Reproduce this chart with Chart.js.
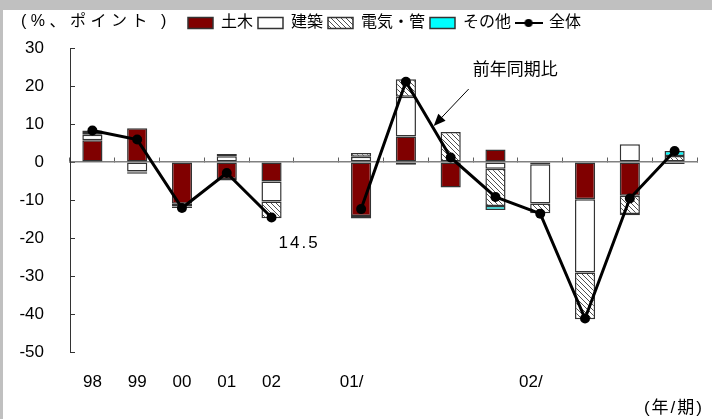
<!DOCTYPE html>
<html>
<head>
<meta charset="utf-8">
<script src="https://cdn.jsdelivr.net/npm/chart.js@4.4.1/dist/chart.umd.min.js"></script>
<style>
  html, body { margin: 0; padding: 0; background: #c0c0c0; }
  #wrap { position: absolute; left: 3px; top: 10px; width: 709px; height: 409px; background: #fff; }
</style>
</head>
<body>
<div id="wrap"><canvas id="chart" width="709" height="409"></canvas></div>
<script>
// year / quarter slots (index 5 is the empty gap)
const periods = ['98', '99', '00', '01', '02', '', '01/', '', '', '', '02/', '', '', ''];
const civil    = [5.7, 8.9, -11.0, -4.5, -5.1, null, -14.2, 6.7, -6.7, 3.3, -0.6, -9.8, -8.9, -0.5];
const building = [1.5, -2.5, -0.3, 1.5, -5.3, null, 1.4, 10.5, null, -1.8, -10.3, -19.3, 4.7, null];
const electric = [0.4, -0.2, -0.4, 0.6, -4.4, null, 1.0, 4.6, 7.9, -9.8, -2.6, -12.3, -4.8, 1.6];
const other    = [0.7, -0.4, -0.4, -0.4, null, null, -0.7, -0.7, null, -1.0, null, null, -0.3, 1.3];
const total    = [8.3, 5.9, -12.1, -2.9, -14.6, null, -12.4, 21.1, 1.2, -9.2, -13.6, -41.2, -9.6, 2.9];
const yTicks = [-50, -40, -30, -20, -10, 0, 10, 20, 30];

const FONT = '"Liberation Sans", "Noto Sans CJK JP", sans-serif';
const canvas = document.getElementById('chart');
const ctx = canvas.getContext('2d');

function makeHatch() {
  const c = document.createElement('canvas');
  c.width = 5; c.height = 5;
  const g = c.getContext('2d');
  g.fillStyle = '#fff';
  g.fillRect(0, 0, 5, 5);
  g.strokeStyle = '#505050';
  g.lineWidth = 1;
  g.beginPath();
  g.moveTo(-1, -1); g.lineTo(6, 6);
  g.moveTo(-1, 4); g.lineTo(1, 6);
  g.moveTo(4, -1); g.lineTo(6, 1);
  g.stroke();
  return ctx.createPattern(c, 'repeat');
}

function makeLineIcon() {
  const c = document.createElement('canvas');
  c.width = 28; c.height = 12;
  const g = c.getContext('2d');
  g.strokeStyle = '#000';
  g.lineWidth = 2;
  g.beginPath(); g.moveTo(0, 6); g.lineTo(28, 6); g.stroke();
  g.fillStyle = '#000';
  g.beginPath(); g.arc(14, 6, 4, 0, Math.PI * 2); g.fill();
  return c;
}

const hatch = makeHatch();
const lineIcon = makeLineIcon();

const barStyle = { borderColor: '#333', borderWidth: 1.5, borderSkipped: false, stack: 'parts', order: 1 };

// texts and arrow that are not part of the axes
const notes = {
  id: 'notes',
  afterLayout(chart) {
    // legend row sits at the very top, shifted right like the original
    const lg = chart.legend;
    const h = lg.height;
    lg.top = 0;
    lg.bottom = h;
    lg.left = 69;
  },
  afterDraw(chart) {
    const { ctx, scales: { x, y } } = chart;
    ctx.save();
    ctx.fillStyle = '#000';
    ctx.textBaseline = 'middle';
    ctx.font = '16px ' + FONT;
    ctx.letterSpacing = '4.5px';
    ctx.fillText('(%、ポイント )', 18, 12);
    ctx.font = '17px ' + FONT;
    ctx.letterSpacing = '2px';
    ctx.textAlign = 'right';
    ctx.fillText('(年/期)', 701, 398);
    ctx.textAlign = 'left';
    const x4 = x.getPixelForValue(4);
    ctx.fillText('14.5', x4 + 7, y.getPixelForValue(-21.3));
    const x8 = x.getPixelForValue(8);
    ctx.letterSpacing = '0px';
    ctx.fillText('前年同期比', x8 + 22, y.getPixelForValue(24.2));
    // arrow
    const sx = x8 + 18, sy = y.getPixelForValue(19.2);
    const tx = x8 - 17, ty = y.getPixelForValue(9.5);
    const a = Math.atan2(ty - sy, tx - sx);
    ctx.strokeStyle = '#000';
    ctx.lineWidth = 1;
    ctx.beginPath();
    ctx.moveTo(sx, sy);
    ctx.lineTo(tx - 10 * Math.cos(a), ty - 10 * Math.sin(a));
    ctx.stroke();
    ctx.beginPath();
    ctx.moveTo(tx, ty);
    ctx.lineTo(tx - 12 * Math.cos(a) + 5 * Math.sin(a), ty - 12 * Math.sin(a) - 5 * Math.cos(a));
    ctx.lineTo(tx - 12 * Math.cos(a) - 5 * Math.sin(a), ty - 12 * Math.sin(a) + 5 * Math.cos(a));
    ctx.closePath();
    ctx.fill();
    ctx.restore();
  }
};

Chart.defaults.font.family = FONT;
Chart.defaults.font.size = 17;
Chart.defaults.color = '#000';

new Chart(canvas, {
  type: 'bar',
  data: {
    labels: periods,
    datasets: [
      { ...barStyle, label: '土木', data: civil, backgroundColor: '#800000' },
      { ...barStyle, label: '建築', data: building, backgroundColor: '#ffffff' },
      { ...barStyle, label: '電気・管', data: electric, backgroundColor: hatch },
      { ...barStyle, label: 'その他', data: other, backgroundColor: '#00ffff' },
      {
        type: 'line', label: '全体', data: total, stack: 'line', order: 0,
        borderColor: '#000', backgroundColor: '#000', borderWidth: 3,
        pointRadius: 5, pointBackgroundColor: '#000', pointBorderWidth: 0,
        tension: 0, spanGaps: false
      }
    ]
  },
  options: {
    responsive: false,
    animation: false,
    devicePixelRatio: 1,
    barPercentage: 0.45,
    categoryPercentage: 1,
    layout: { padding: { left: 0, right: 15, top: 0, bottom: 0 } },
    scales: {
      x: {
        stacked: true,
        offset: true,
        grid: { display: false, drawTicks: false },
        border: { display: false },
        ticks: {
          padding: 20,
          maxRotation: 0,
          autoSkip: false,
          callback: (v, i) => periods[i].endsWith('/') ? periods[i] + '    ' : periods[i]
        },
        afterFit: s => { s.height = 67; }
      },
      x2: {
        type: 'category',
        labels: periods,
        position: { y: 0 },
        offset: true,
        grid: { offset: true, drawOnChartArea: false, drawTicks: true, tickLength: -5, color: '#606060' },
        border: { display: true, color: '#808080', width: 1.5 },
        ticks: { display: false }
      },
      y: {
        stacked: true,
        min: -50,
        max: 30,
        afterBuildTicks: s => { s.ticks = yTicks.map(v => ({ value: v })); },
        grid: { drawOnChartArea: false, drawTicks: true, tickLength: -5, color: '#333' },
        border: { display: true, color: '#333', width: 1 },
        ticks: { padding: 31 },
        afterFit: s => { s.width = 67; s.paddingTop = 38; }
      }
    },
    plugins: {
      tooltip: { enabled: false },
      legend: {
        position: 'top',
        align: 'center',
        labels: {
          usePointStyle: true,
          pointStyleWidth: 25,
          boxHeight: 11,
          padding: 5,
          font: { size: 16 },
          sort: (a, b) => a.datasetIndex - b.datasetIndex,
          generateLabels(chart) {
            const items = Chart.defaults.plugins.legend.labels.generateLabels(chart);
            items.forEach(it => {
              if (it.datasetIndex === 4) {
                it.pointStyle = lineIcon;
              } else {
                it.pointStyle = 'rect';
                it.lineWidth = 1.5;
                it.strokeStyle = '#333';
              }
            });
            return items;
          }
        }
      }
    }
  },
  plugins: [notes]
});
</script>
</body>
</html>
